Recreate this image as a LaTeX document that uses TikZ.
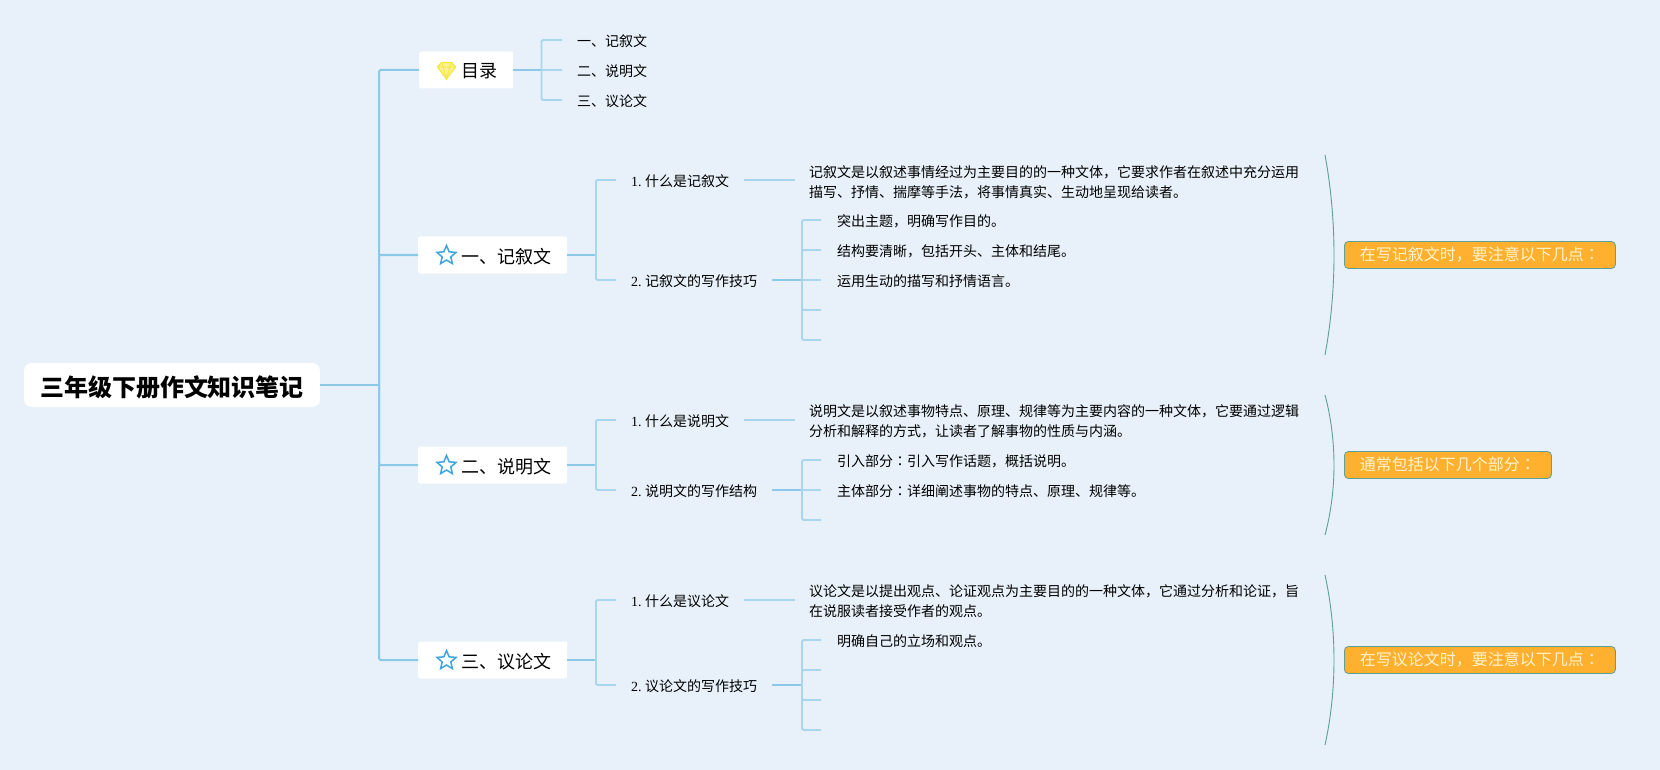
\documentclass[tikz,border=0pt]{standalone}
\usepackage{fontspec}
\setmainfont{Noto Sans CJK SC}
\newfontfamily\latinserif{Liberation Serif}
\newfontfamily\tcfont{Noto Sans CJK TC}
\usetikzlibrary{shapes.geometric,calc}
\definecolor{bgc}{HTML}{E8F1F9}
\definecolor{linea}{HTML}{8CC8E8}
\definecolor{lineb}{HTML}{A9D6EC}
\definecolor{starc}{HTML}{3DA5DF}
\definecolor{gemc}{HTML}{F6E837}
\definecolor{orangec}{HTML}{FFB02E}
\definecolor{tealc}{HTML}{5F9E92}
\definecolor{notec}{HTML}{FFF3CF}
\tikzset{
  x=1pt,y=-1pt,
  rootbox/.style={fill=white,rounded corners=8pt,minimum height=44pt,inner xsep=16pt,inner ysep=0pt,font=\fontsize{24}{30}\selectfont\bfseries,text height=26pt,text depth=3pt},
  mainbox/.style={fill=white,rounded corners=2pt,minimum height=37pt,inner xsep=15.5pt,inner ysep=0pt,font=\fontsize{18}{22}\selectfont,text height=18pt,text depth=2pt,anchor=west},
  leaf/.style={inner xsep=15pt,inner ysep=0pt,font=\fontsize{14}{20}\selectfont,anchor=west,align=left,text height=13pt,text depth=0pt},
  desc/.style={inner xsep=14pt,inner ysep=0pt,font=\fontsize{14}{20}\selectfont,anchor=west,align=left},
  note/.style={fill=orangec,draw=tealc,line width=0.8pt,rounded corners=4pt,minimum height=27pt,inner xsep=15.5pt,inner ysep=0pt,text=notec,font=\fontsize{16}{20}\selectfont,text height=13pt,text depth=2pt,anchor=west},
  conn/.style={draw=linea,line width=2pt,rounded corners=1.5pt},
  subconn/.style={draw=lineb,line width=1.8pt,rounded corners=1.5pt},
  staricon/.style={star,star points=5,star point ratio=2.2,draw=starc,line width=1.5pt,minimum size=20pt,inner sep=0pt},
  brace/.style={draw=tealc,line width=0.9pt},
}
\newcommand{\num}[1]{{\latinserif #1}\hspace{3.5pt}}
\newcommand{\kid}{\hspace*{1pt}}
\newcommand{\cc}{{\tcfont ：}}
\begin{document}
\begin{tikzpicture}
\useasboundingbox[fill=bgc] (0,0) rectangle (1660,770);
% root
\node[rootbox] (root) at (172,385) {三年级下册作文知识笔记};
\coordinate (trunk) at (379,385);
% main
\node[mainbox] (toc) at (419,70) {\hspace*{27pt}目录};
\node[mainbox] (ji) at (418,255) {\hspace*{28pt}一、记叙文};
\node[mainbox] (shuo) at (418,465) {\hspace*{28pt}二、说明文};
\node[mainbox] (yi) at (418,660) {\hspace*{28pt}三、议论文};
% icons
\node[staricon] (s1) at (446.5,255.5) {};
\node[staricon] (s2) at (446.5,465.5) {};
\node[staricon] (s3) at (446.5,660.5) {};
\coordinate (gem) at (446.5,70);
\draw[draw=gemc,fill=gemc!55!white,line width=1.2pt,line join=round] ($(gem)+(-5,-7.5)$) -- ($(gem)+(5,-7.5)$) -- ($(gem)+(9,-3)$) -- ($(gem)+(0,9)$) -- ($(gem)+(-9,-3)$) -- cycle;
\draw[draw=gemc,line width=0.9pt] ($(gem)+(-9,-3)$) -- ($(gem)+(9,-3)$) ($(gem)+(-3.5,-3)$) -- ($(gem)+(0,9)$) -- ($(gem)+(3.5,-3)$) ($(gem)+(-5,-7.5)$) -- ($(gem)+(-3.5,-3)$) ($(gem)+(5,-7.5)$) -- ($(gem)+(3.5,-3)$);
% trunk connectors
\draw[conn] (root.east) -- (trunk);
\draw[conn] (trunk) |- (toc.west);
\draw[conn] (trunk) |- (ji.west);
\draw[conn] (trunk) |- (shuo.west);
\draw[conn] (trunk) |- (yi.west);
% toc leaves
\node[leaf] (t1) at (562,40) {一、记叙文};
\node[leaf] (t2) at (562,70) {二、说明文};
\node[leaf] (t3) at (562,100) {三、议论文};
\coordinate (tb) at (541.5,70);
\draw[conn] (toc.east) -- (tb);
\draw[subconn] (tb) |- (t1.west);
\draw[subconn] (tb) -- (t2.west);
\draw[subconn] (tb) |- (t3.west);
% section 1
\node[leaf] (j1) at (616,180) {\num{1.}什么是记叙文};
\node[leaf] (j2) at (616,280) {\num{2.}记叙文的写作技巧};
\coordinate (jb) at (596,255);
\draw[conn] (ji.east) -- (jb);
\draw[subconn] (jb) |- (j1.west);
\draw[subconn] (jb) |- (j2.west);
\node[desc] (j1d) at (795,182) {记叙文是以叙述事情经过为主要目的的一种文体，它要求作者在叙述中充分运用\\描写、抒情、揣摩等手法，将事情真实、生动地呈现给读者。};
\draw[subconn] (j1.east) -- (j1.east -| j1d.west);
\node[leaf] (j21) at (821,220) {\kid 突出主题，明确写作目的。};
\node[leaf] (j22) at (821,250) {\kid 结构要清晰，包括开头、主体和结尾。};
\node[leaf] (j23) at (821,280) {\kid 运用生动的描写和抒情语言。};
\coordinate (j24) at (821,310);
\coordinate (j25) at (821,340);
\coordinate (j2b) at (802,280);
\draw[conn] (j2.east) -- (j2b);
\draw[subconn] (j2b) |- (j21.west);
\draw[subconn] (j2b) |- (j22.west);
\draw[subconn] (j2b) -- (j23.west);
\draw[subconn] (j2b) |- (j24);
\draw[subconn] (j2b) |- (j25);
\coordinate (jbr1) at (1325,155);
\coordinate (jbr2) at (1325,355);
\draw[brace] (jbr1) .. controls (1337,220) and (1337,290) .. (jbr2);
\node[note] (jn) at (1344,255) {在写记叙文时，要注意以下几点\cc};
% section 2
\node[leaf] (s21) at (616,420) {\num{1.}什么是说明文};
\node[leaf] (s22) at (616,490) {\num{2.}说明文的写作结构};
\coordinate (sb) at (596,465);
\draw[conn] (shuo.east) -- (sb);
\draw[subconn] (sb) |- (s21.west);
\draw[subconn] (sb) |- (s22.west);
\node[desc] (s21d) at (795,421) {说明文是以叙述事物特点、原理、规律等为主要内容的一种文体，它要通过逻辑\\分析和解释的方式，让读者了解事物的性质与内涵。};
\draw[subconn] (s21.east) -- (s21.east -| s21d.west);
\node[leaf] (s221) at (821,460) {\kid 引入部分\cc 引入写作话题，概括说明。};
\node[leaf] (s222) at (821,490) {\kid 主体部分\cc 详细阐述事物的特点、原理、规律等。};
\coordinate (s223) at (821,520);
\coordinate (s2b) at (802,490);
\draw[conn] (s22.east) -- (s2b);
\draw[subconn] (s2b) |- (s221.west);
\draw[subconn] (s2b) -- (s222.west);
\draw[subconn] (s2b) |- (s223);
\coordinate (sbr1) at (1325,395);
\coordinate (sbr2) at (1325,535);
\draw[brace] (sbr1) .. controls (1337,440) and (1337,490) .. (sbr2);
\node[note] (sn) at (1344,465) {通常包括以下几个部分\cc};
% section 3
\node[leaf] (y1) at (616,600) {\num{1.}什么是议论文};
\node[leaf] (y2) at (616,685) {\num{2.}议论文的写作技巧};
\coordinate (yb) at (596,660);
\draw[conn] (yi.east) -- (yb);
\draw[subconn] (yb) |- (y1.west);
\draw[subconn] (yb) |- (y2.west);
\node[desc] (y1d) at (795,601) {议论文是以提出观点、论证观点为主要目的的一种文体，它通过分析和论证，旨\\在说服读者接受作者的观点。};
\draw[subconn] (y1.east) -- (y1.east -| y1d.west);
\node[leaf] (y21) at (821,640) {\kid 明确自己的立场和观点。};
\coordinate (y22) at (821,670);
\coordinate (y23) at (821,700);
\coordinate (y24) at (821,730);
\coordinate (y2b) at (802,685);
\draw[conn] (y2.east) -- (y2b);
\draw[subconn] (y2b) |- (y21.west);
\draw[subconn] (y2b) |- (y22);
\draw[subconn] (y2b) |- (y23);
\draw[subconn] (y2b) |- (y24);
\coordinate (ybr1) at (1325,575);
\coordinate (ybr2) at (1325,745);
\draw[brace] (ybr1) .. controls (1337,630) and (1337,690) .. (ybr2);
\node[note] (yn) at (1344,660) {在写议论文时，要注意以下几点\cc};
\end{tikzpicture}
\end{document}
